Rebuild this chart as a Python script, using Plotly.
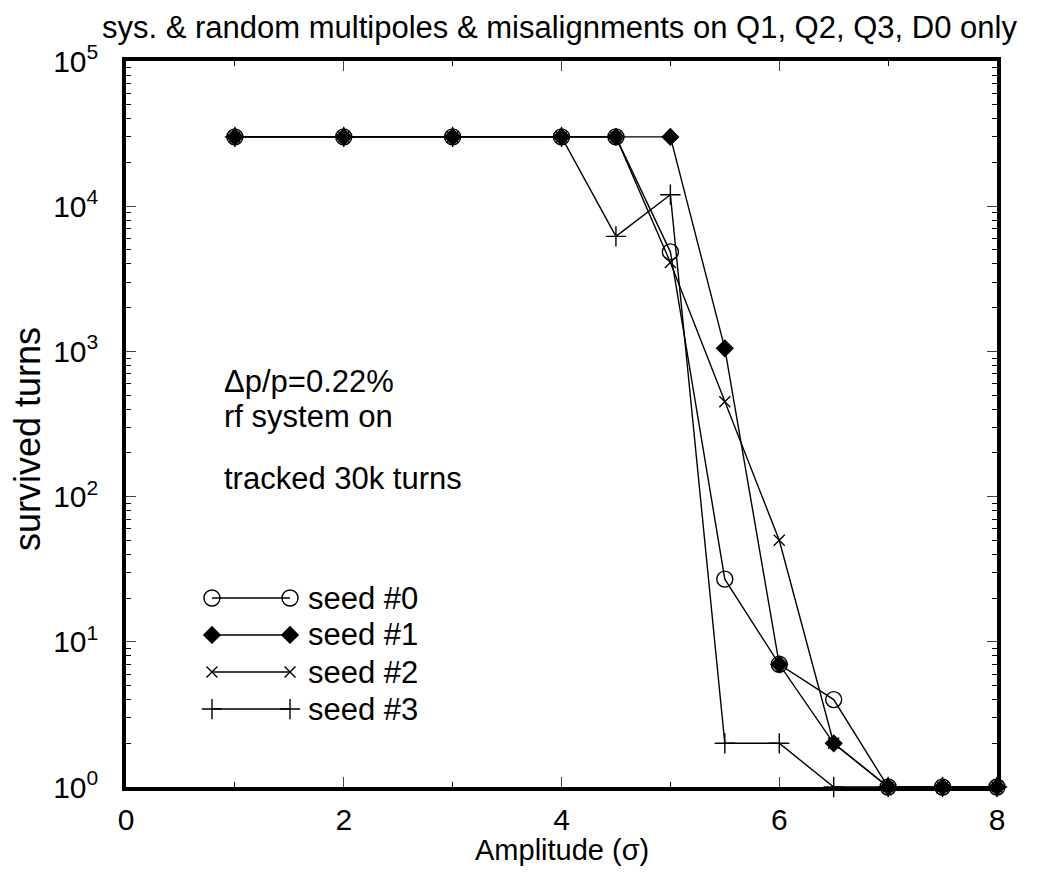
import plotly.graph_objects as go

amplitude = [1, 2, 3, 4, 4.5, 5, 5.5, 6, 6.5, 7, 7.5, 8]
seed0 = [30000, 30000, 30000, 30000, 30000, 4850, 27, 7, 4, 1, 1, 1]
seed1 = [30000, 30000, 30000, 30000, 30000, 30000, 1050, 7, 2, 1, 1, 1]
seed2 = [30000, 30000, 30000, 30000, 30000, 4100, 450, 50, 2, 1, 1, 1]
seed3 = [30000, 30000, 30000, 30000, 6200, 12000, 2, 2, 1, 1, 1, 1]
series_names = ["seed #0", "seed #1", "seed #2", "seed #3"]
symbols = ["circle-open", "diamond", "x-thin-open", "cross-thin-open"]
sizes = [16, 12.5, 11, 14.5]

x_ticks = [0, 2, 4, 6, 8]
x_minor = [1, 3, 5, 7]
y_tickvals = [1, 10, 100, 1000, 10000, 100000]
y_ticktext = ["10<sup>0</sup>", "10<sup>1</sup>", "10<sup>2</sup>", "10<sup>3</sup>",
              "10<sup>4</sup>", "10<sup>5</sup>"]
y_minor = [m * 10 ** d for d in range(5) for m in range(2, 10)]

FONT = "Liberation Sans, Arial, sans-serif"
fig = go.Figure()

for name, ys, sym, sz in zip(series_names, [seed0, seed1, seed2, seed3], symbols, sizes):
    fig.add_trace(go.Scatter(
        x=amplitude, y=ys, mode="lines+markers", name=name, showlegend=False,
        line=dict(color="black", width=1.4),
        marker=dict(symbol=sym, size=sz, color="black",
                    line=dict(color="black", width=1.4)),
        cliponaxis=False,
    ))

# manual legend on overlay axes (paper-like 0..1)
leg_y = [0.2603, 0.2094, 0.1584, 0.1074]
for name, sym, sz, ly in zip(series_names, symbols, sizes, leg_y):
    fig.add_trace(go.Scatter(
        x=[0.0987, 0.1883], y=[ly, ly], xaxis="x2", yaxis="y2",
        mode="lines+markers", showlegend=False, hoverinfo="skip",
        line=dict(color="black", width=1.4),
        marker=dict(symbol=sym, size=sz, color="black",
                    line=dict(color="black", width=1.4)),
        cliponaxis=False,
    ))
    fig.add_annotation(x=0.207, y=ly, xref="paper", yref="paper", text=name,
                       showarrow=False, xanchor="left", yanchor="middle",
                       font=dict(family=FONT, size=31, color="black"))

for txt, yy in [("Δp/p=0.22%", 0.5585), ("rf system on", 0.5103), ("tracked 30k turns", 0.4256)]:
    fig.add_annotation(x=0.1102, y=yy, xref="paper", yref="paper", text=txt,
                       showarrow=False, xanchor="left", yanchor="middle",
                       font=dict(family=FONT, size=31, color="black"))

fig.add_annotation(x=0.498, y=1.0, xref="paper", yref="paper", yshift=34,
                   text="sys. & random multipoles & misalignments on Q1, Q2, Q3, D0 only",
                   showarrow=False, xanchor="center", yanchor="middle",
                   font=dict(family=FONT, size=31, color="black"))

# axis titles
fig.add_annotation(x=0.5006, y=0, xref="paper", yref="paper", yshift=-63,
                   text="Amplitude (σ)", showarrow=False, xanchor="center", yanchor="middle",
                   font=dict(family=FONT, size=29, color="black"))
fig.add_annotation(x=0, y=0.4793, xref="paper", yref="paper", xshift=-99,
                   text="survived turns", textangle=-90, showarrow=False,
                   xanchor="center", yanchor="middle",
                   font=dict(family=FONT, size=36, color="black"))

fig.update_layout(
    width=1038, height=861,
    margin=dict(l=118, r=49, t=53, b=82, autoexpand=False),
    paper_bgcolor="white", plot_bgcolor="white",
    font=dict(family=FONT, size=31, color="black"),
    xaxis=dict(
        range=[0, 8], tickvals=x_ticks, ticks="inside", ticklen=10, tickwidth=1,
        showline=True, linewidth=3.5, linecolor="black", mirror="ticks",
        showgrid=False, zeroline=False, tickfont=dict(size=30),
        ticklabelstandoff=3, automargin=False,
        minor=dict(tickvals=x_minor, ticks="inside", ticklen=5, tickwidth=1, tickcolor="black"),
    ),
    yaxis=dict(
        type="log", range=[0, 5], tickvals=y_tickvals, ticktext=y_ticktext,
        ticks="inside", ticklen=10, tickwidth=1,
        showline=True, linewidth=3.5, linecolor="black", mirror="ticks",
        showgrid=False, zeroline=False, tickfont=dict(size=30),
        ticklabelstandoff=18, automargin=False,
        minor=dict(tickvals=y_minor, ticks="inside", ticklen=5, tickwidth=1, tickcolor="black"),
    ),
    xaxis2=dict(range=[0, 1], overlaying="x", visible=False, fixedrange=True),
    yaxis2=dict(range=[0, 1], overlaying="y", visible=False, fixedrange=True),
)

fig.write_html("out.html")
